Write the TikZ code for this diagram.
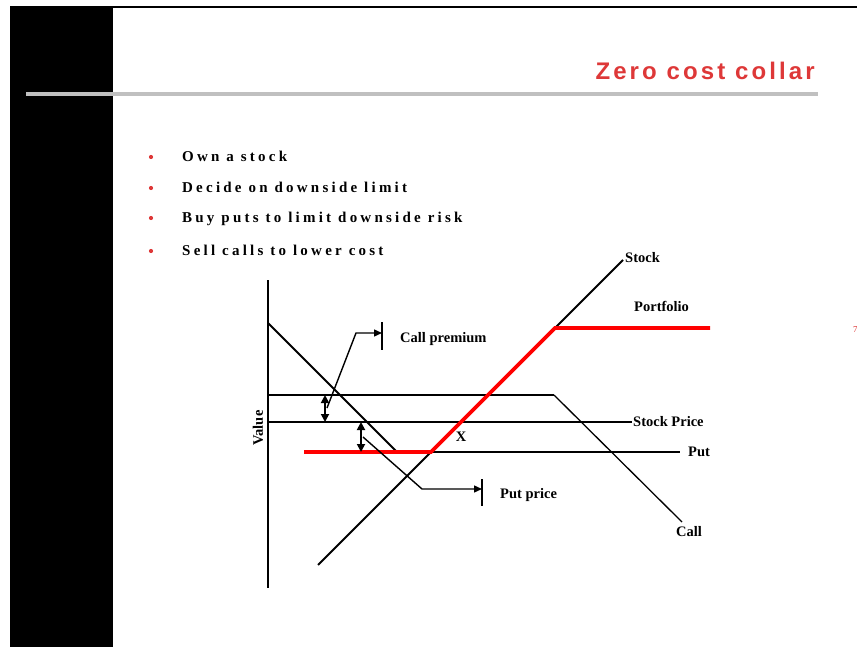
\documentclass[tikz,border=0pt]{standalone}
\usepackage{fontspec}
\setmainfont{Liberation Serif}
\newfontfamily\titlefont[LetterSpace=13]{Liberation Sans}
\newfontfamily\bulletfont[LetterSpace=21.5]{Liberation Serif}
\usetikzlibrary{arrows.meta}
\definecolor{titlered}{RGB}{222,56,56}
\definecolor{rulegrey}{RGB}{192,192,192}
\definecolor{portred}{RGB}{255,0,0}
\begin{document}
\begin{tikzpicture}[x=1pt,y=-1pt,
  lbl/.style={font=\fontsize{14.5}{17}\selectfont\bfseries, inner sep=0pt, anchor=base west},
  bullettext/.style={font=\bulletfont\fontsize{15}{18}\selectfont\bfseries, anchor=base west, inner sep=0pt},
  bulletdot/.style={circle, fill=titlered, inner sep=0pt, minimum size=4.2pt},
  curve/.style={line width=1.8pt},
  thinline/.style={line width=1.3pt},
  portfolio/.style={line width=3.6pt, portred},
  dbl/.style={line width=1.8pt, {Triangle[length=8pt,width=8pt]}-{Triangle[length=8pt,width=8pt]}},
  lead/.style={line width=1.4pt, -{Triangle[length=8pt,width=7pt]}},
  bar/.style={line width=1.6pt},
]
\useasboundingbox (0,0) rectangle (857,647);
\fill[white] (0,0) rectangle (857,647);
% frame
\fill[black] (10,8) rectangle (113,647);
\draw[line width=2.5pt] (10,7) -- (857,7);
\draw[rulegrey, line width=4pt] (26,94) -- (818,94);
\node[anchor=base east, text=titlered, font=\titlefont\fontsize{24}{28}\selectfont\bfseries, inner sep=0pt] (title) at (815,80) {Zero cost collar};
\node[anchor=west, text=titlered, font=\fontsize{9}{10}\selectfont, inner sep=0pt] (pagenum) at (853,330) {7};
% bullets
\foreach \yy/\txt [count=\i] in {162/Own a stock, 193/Decide on downside limit, 223/Buy puts to limit downside risk, 256/Sell calls to lower cost}{
  \node[bulletdot] (dot\i) at (151,\yy-5) {};
  \node[bullettext] (item\i) at (182,\yy) {\txt};
}
% coordinates
\coordinate (axtop) at (268,280);
\coordinate (axbot) at (268,588);
\coordinate (cdtop) at (268,323);
\coordinate (cdbot) at (397,452);
\coordinate (chl) at (268,395);
\coordinate (chr) at (554,395);
\coordinate (cend) at (682,522);
\coordinate (spl) at (268,422);
\coordinate (spr) at (632,422);
\coordinate (putl) at (431,452);
\coordinate (putr) at (680,452);
\coordinate (stl) at (318,565);
\coordinate (str) at (623,260);
\coordinate (pf1) at (304,452);
\coordinate (pf2) at (431,452);
\coordinate (pf3) at (555,328);
\coordinate (pf4) at (710,328);
% axis and curves
\draw[curve] (axtop) -- (axbot);
\draw[curve] (cdtop) -- (cdbot);
\draw[curve] (chl) -- (chr);
\draw[thinline] (chr) -- (cend);
\draw[curve] (spl) -- (spr);
\draw[curve] (putl) -- (putr);
\draw[curve] (stl) -- (str);
\draw[portfolio] (pf1) -- (pf2) -- (pf3) -- (pf4);
% call premium annotation
\coordinate (cpa) at (325,395);
\coordinate (cpb) at (325,422);
\draw[dbl] (cpa) -- (cpb);
\coordinate (cpl0) at (327,408);
\coordinate (cpl1) at (356,333);
\coordinate (cpl2) at (382,333);
\coordinate (cpbt) at (382,322);
\coordinate (cpbb) at (382,350);
\draw[lead] (cpl0) -- (cpl1) -- (cpl2);
\draw[bar] (cpbt) -- (cpbb);
% put price annotation
\coordinate (ppa) at (361,422);
\coordinate (ppb) at (361,452);
\draw[dbl] (ppa) -- (ppb);
\coordinate (ppl0) at (363,437);
\coordinate (ppl1) at (422,489);
\coordinate (ppl2) at (482,489);
\coordinate (ppbt) at (482,479);
\coordinate (ppbb) at (482,506);
\draw[lead] (ppl0) -- (ppl1) -- (ppl2);
\draw[bar] (ppbt) -- (ppbb);
% labels
\node[lbl] (lcp) at (400,342) {Call premium};
\node[lbl] (lpp) at (500,498) {Put price};
\node[lbl] (lsp) at (633,426) {Stock Price};
\node[lbl] (lput) at (688,456) {Put};
\node[lbl] (lcall) at (676,536) {Call};
\node[lbl] (lstock) at (625,262) {Stock};
\node[lbl] (lpf) at (634,312) {Portfolio};
\node[lbl, anchor=center] (lx) at (461,437) {X};
\node[lbl, anchor=center, rotate=90] (lval) at (258,428) {Value};
\end{tikzpicture}
\end{document}
